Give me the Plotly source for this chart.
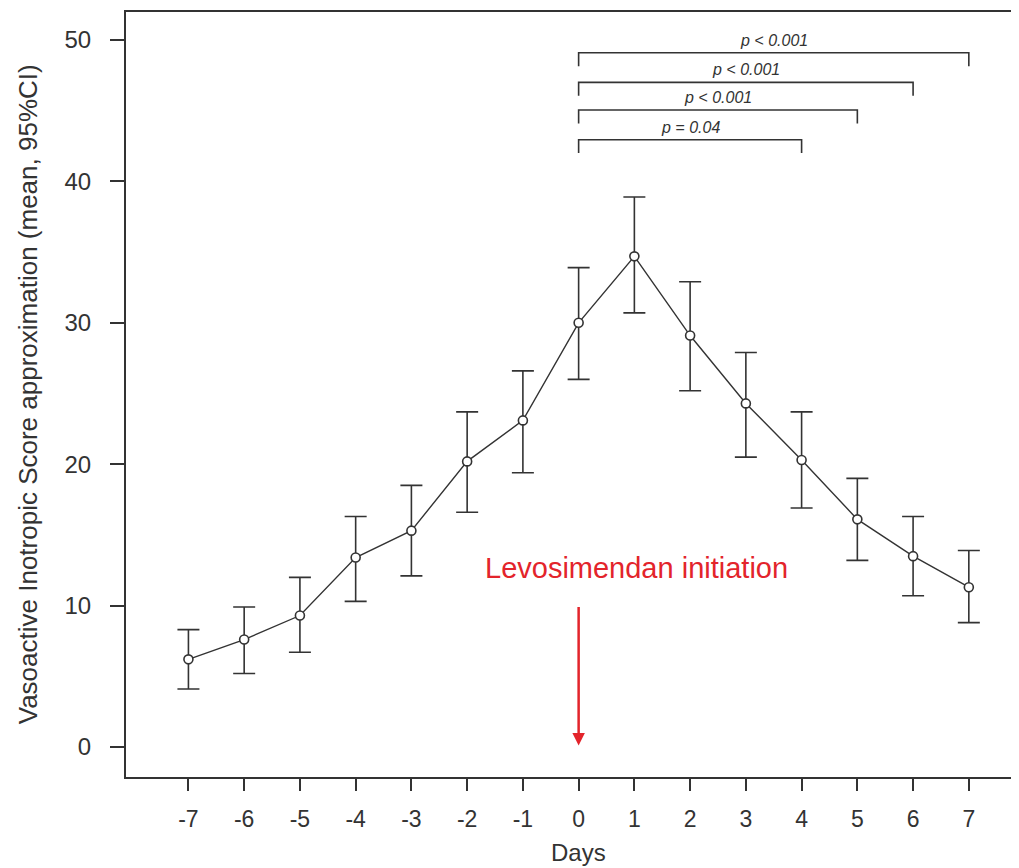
import plotly.graph_objects as go

days = [-7, -6, -5, -4, -3, -2, -1, 0, 1, 2, 3, 4, 5, 6, 7]
mean_vis = [6.2, 7.6, 9.3, 13.4, 15.3, 20.2, 23.1, 30.0, 34.7, 29.1, 24.3, 20.3, 16.1, 13.5, 11.3]
ci_upper = [8.3, 9.9, 12.0, 16.3, 18.5, 23.7, 26.6, 33.9, 38.9, 32.9, 27.9, 23.7, 19.0, 16.3, 13.9]
ci_lower = [4.1, 5.2, 6.7, 10.3, 12.1, 16.6, 19.4, 26.0, 30.7, 25.2, 20.5, 16.9, 13.2, 10.7, 8.8]

bracket_start = 0
bracket_end = [4, 5, 6, 7]
bracket_level = [42.95, 45.05, 47.0, 49.1]
bracket_labels = ["p = 0.04", "p < 0.001", "p < 0.001", "p < 0.001"]
bracket_tick = 0.95
label_offset = 0.88

y_ticks = [0, 10, 20, 30, 40, 50]

FONT = "Liberation Sans, Arial, sans-serif"
DARK = "#333333"
RED = "#e3242b"

fig = go.Figure()

fig.add_trace(go.Scatter(
    x=days, y=mean_vis, mode="lines+markers",
    line=dict(color=DARK, width=1.4),
    marker=dict(symbol="circle", size=9, color="white", line=dict(color=DARK, width=1.6)),
    error_y=dict(type="data", symmetric=False,
                 array=[u - m for u, m in zip(ci_upper, mean_vis)],
                 arrayminus=[m - l for m, l in zip(mean_vis, ci_lower)],
                 color=DARK, thickness=1.6, width=11),
    showlegend=False, hoverinfo="skip",
))

# significance brackets
for end, lev, lab in zip(bracket_end, bracket_level, bracket_labels):
    fig.add_trace(go.Scatter(
        x=[bracket_start, bracket_start, end, end],
        y=[lev - bracket_tick, lev, lev, lev - bracket_tick],
        mode="lines", line=dict(color=DARK, width=1.6),
        showlegend=False, hoverinfo="skip",
    ))
    fig.add_annotation(x=(bracket_start + end) / 2, y=lev + label_offset, text=lab,
                       showarrow=False, xanchor="center", yanchor="middle",
                       font=dict(family=FONT, size=16, color=DARK, style="italic"))

# arrow + label
fig.add_annotation(x=0, y=0.1, ax=0, ay=10.0, xref="x", yref="y", axref="x", ayref="y",
                   showarrow=True, arrowhead=2, arrowsize=1.0, arrowwidth=2.5,
                   arrowcolor=RED, text="")
fig.add_annotation(x=1.04, y=12.66, text="Levosimendan initiation", showarrow=False,
                   xanchor="center", yanchor="middle",
                   font=dict(family=FONT, size=29, color=RED))

# axis titles
fig.add_annotation(xref="paper", yref="paper", x=-0.110, y=0.5,
                   text="Vasoactive Inotropic Score approximation (mean, 95%CI)",
                   textangle=-90, showarrow=False, xanchor="center", yanchor="middle",
                   font=dict(family=FONT, size=26, color=DARK))
fig.add_annotation(xref="x", yref="paper", x=0, y=-0.099, text="Days",
                   showarrow=False, xanchor="center", yanchor="middle",
                   font=dict(family=FONT, size=24, color=DARK))

fig.update_xaxes(range=[-8.12, 7.90], tickvals=days, ticktext=[str(d) for d in days],
                 ticks="outside", ticklen=12, tickwidth=1.6, tickcolor=DARK,
                 showline=True, linecolor=DARK, linewidth=2, mirror=True,
                 showgrid=False, zeroline=False, ticklabelstandoff=8,
                 tickfont=dict(family=FONT, size=23, color=DARK))
fig.update_yaxes(range=[-2.12, 51.98], tickvals=y_ticks,
                 ticks="outside", ticklen=14, tickwidth=1.6, tickcolor=DARK,
                 showline=True, linecolor=DARK, linewidth=2, mirror=False,
                 showgrid=False, zeroline=False, ticklabelstandoff=14,
                 tickfont=dict(family=FONT, size=24, color=DARK))

fig.update_layout(width=1011, height=860, plot_bgcolor="white", paper_bgcolor="white",
                  margin=dict(l=118, r=0, t=4, b=91), showlegend=False)

fig.write_html("out.html")
